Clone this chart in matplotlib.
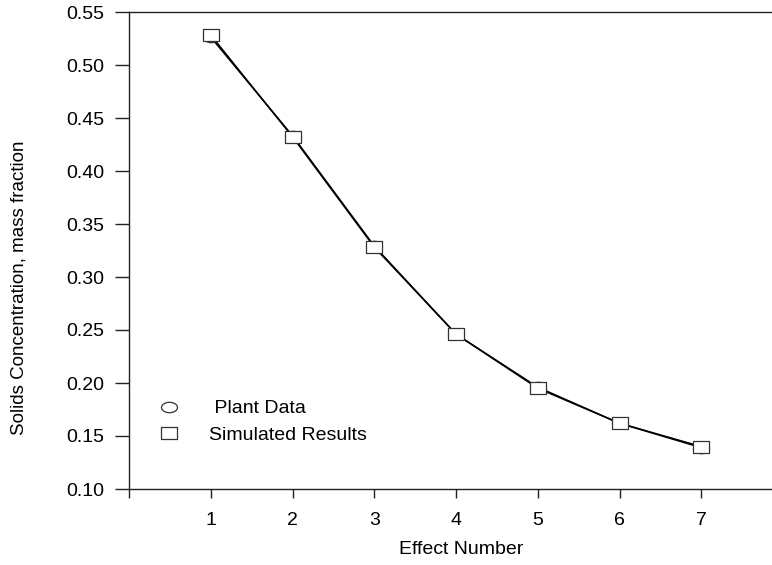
import matplotlib
matplotlib.use("Agg")
import matplotlib.pyplot as plt
import numpy as np
from matplotlib.path import Path
from matplotlib.lines import Line2D

effects = [1, 2, 3, 4, 5, 6, 7]
plant_data = [0.526, 0.433, 0.329, 0.246, 0.196, 0.162, 0.139]
simulated = [0.528, 0.432, 0.328, 0.246, 0.195, 0.162, 0.140]
x_ticks = [0, 1, 2, 3, 4, 5, 6, 7]
x_tick_labels = ["", "1", "2", "3", "4", "5", "6", "7"]
y_ticks = [0.10, 0.15, 0.20, 0.25, 0.30, 0.35, 0.40, 0.45, 0.50, 0.55]
y_tick_labels = ["%.2f" % v for v in y_ticks]

plt.rcParams['font.family'] = ['Liberation Sans', 'DejaVu Sans']

W, H = 772, 565
fig = plt.figure(figsize=(W / 100, H / 100), dpi=100)
left_px, right_px = 129.3, 783.0
top_px, bot_px = 12.0, 489.0
ax = fig.add_axes([left_px / W, 1 - bot_px / H, (right_px - left_px) / W, (bot_px - top_px) / H])

# wide (horizontally stretched) markers
sq = Path([(-1, -0.7), (1, -0.7), (1, 0.7), (-1, 0.7), (-1, -0.7)],
          [Path.MOVETO, Path.LINETO, Path.LINETO, Path.LINETO, Path.CLOSEPOLY])
t = np.linspace(0, 2 * np.pi, 60)
ell = Path(np.column_stack([np.cos(t), 0.65 * np.sin(t)]))

ax.plot(effects, plant_data, color='black', lw=1.1, marker=ell, ms=11.5,
        mfc='white', mec='#333333', mew=0.9, zorder=3)
ax.plot(effects, simulated, color='black', lw=1.1, marker=sq, ms=11.5,
        mfc='white', mec='#333333', mew=0.9, zorder=4)

ax.set_xlim(0, 8)
ax.set_ylim(0.10, 0.55)
ax.set_xticks(x_ticks)
ax.set_xticklabels(x_tick_labels)
ax.set_yticks(y_ticks)
ax.set_yticklabels(y_tick_labels)
ax.tick_params(axis='x', direction='out', length=6.5, width=1.0, pad=10, labelsize=14, color='#222222')
ax.tick_params(axis='y', direction='out', length=10, width=1.0, pad=8, labelsize=14, color='#222222')
for s in ['left', 'bottom', 'top']:
    ax.spines[s].set_linewidth(1.0)
    ax.spines[s].set_color('#222222')
ax.spines['right'].set_visible(False)

fig.text(461 / W, 1 - 550 / H, "Effect Number", ha='center', va='center', fontsize=14)
fig.text(19 / W, 1 - 288 / H, "Solids Concentration, mass fraction", ha='center', va='center',
         rotation=90, fontsize=13.5)

handles = [Line2D([], [], ls='none', marker=ell, ms=11.5, mfc='white', mec='#333333', mew=0.9),
           Line2D([], [], ls='none', marker=sq, ms=11.5, mfc='white', mec='#333333', mew=0.9)]
ax.legend(handles, [" Plant Data", "Simulated Results"], frameon=False, fontsize=14,
          loc='upper left', bbox_to_anchor=(0.026, (bot_px - 392) / (bot_px - top_px)),
          handlelength=1.5, handletextpad=1.3, labelspacing=0.45, borderaxespad=0)

fig.savefig("out.png", dpi=100)
